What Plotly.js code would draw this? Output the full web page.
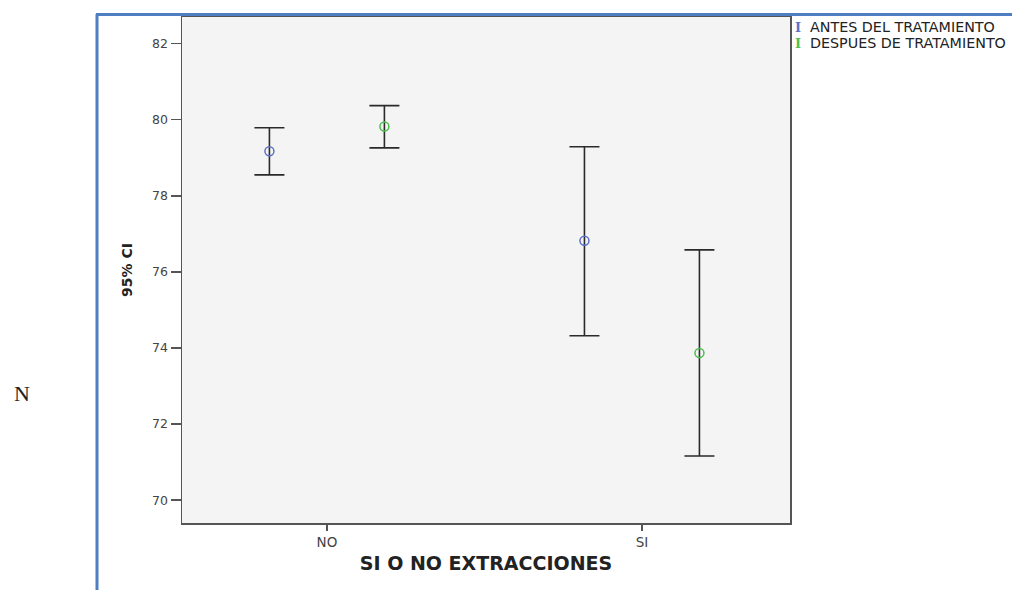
<!DOCTYPE html>
<html>
<head>
<meta charset="utf-8">
<script src="https://cdn.plot.ly/plotly-3.0.1.min.js"></script>
<style>html,body{margin:0;padding:0;background:#fff;}#chart{width:1012px;height:590px;}</style>
</head>
<body>
<div id="chart"></div>
<script>
const categories = ['NO', 'SI'];
const seriesNames = ['ANTES DEL TRATAMIENTO', 'DESPUES DE TRATAMIENTO'];
const antesMean = [79.17, 76.82];
const antesUpper = [79.79, 79.29];
const antesLower = [78.55, 74.32];
const despuesMean = [79.82, 73.87];
const despuesUpper = [80.37, 76.58];
const despuesLower = [79.26, 71.16];
const yTicks = [70, 72, 74, 76, 78, 80, 82];

const colors = ['#5b70c8', '#4cbf4c'];
const FONT = 'DejaVu Sans, Liberation Sans, Arial, sans-serif';

function mk(name, mean, up, lo, color) {
  return {
    type: 'scatter', mode: 'markers', name: name,
    x: categories, y: mean,
    marker: {symbol: 'circle-open', size: 9, color: color, line: {width: 1.5, color: color}},
    error_y: {type: 'data', symmetric: false,
      array: up.map((u, i) => u - mean[i]),
      arrayminus: lo.map((l, i) => mean[i] - l),
      color: '#2a2a2a', thickness: 1.6, width: 15},
    showlegend: false, hoverinfo: 'skip'
  };
}

const data = [
  mk(seriesNames[0], antesMean, antesUpper, antesLower, colors[0]),
  mk(seriesNames[1], despuesMean, despuesUpper, despuesLower, colors[1])
];

const W = 608, H = 506;
const px = v => (v - 182) / W;
const py = v => (523 - v) / H;

const layout = {
  width: 1012, height: 590,
  margin: {l: 182, r: 222, t: 17, b: 67},
  paper_bgcolor: '#ffffff', plot_bgcolor: '#f4f4f4',
  scattermode: 'group', scattergap: 0.27,
  font: {family: FONT, size: 12, color: '#333'},
  xaxis: {
    type: 'category', range: [-0.46, 1.47],
    showline: true, linecolor: '#555', linewidth: 1.5, mirror: true,
    ticks: 'outside', ticklen: 6, tickcolor: '#555', tickwidth: 1.5,
    showgrid: false, zeroline: false,
    tickfont: {family: FONT, size: 13.5, color: '#444'},
    title: {text: 'SI O NO EXTRACCIONES', font: {family: FONT, size: 19, color: '#222', weight: 'bold'}, standoff: 8}
  },
  yaxis: {
    range: [69.4, 82.7], tickvals: yTicks, ticktext: yTicks.map(String),
    showline: true, linecolor: '#555', linewidth: 1.5, mirror: true,
    ticks: 'outside', ticklen: 10, tickcolor: '#555', tickwidth: 1.5,
    showgrid: false, zeroline: false,
    tickfont: {family: FONT, size: 12.5, color: '#444'},
    title: {text: '95% CI', font: {family: FONT, size: 14, color: '#222', weight: 'bold'}, standoff: 16}
  },
  shapes: [
    {type: 'line', xref: 'paper', yref: 'paper', x0: px(97), x1: px(97), y0: py(14), y1: py(600), line: {color: '#4f7fc0', width: 3}},
    {type: 'line', xref: 'paper', yref: 'paper', x0: px(96), x1: px(1020), y0: py(14.5), y1: py(14.5), line: {color: '#4f7fc0', width: 3}}
  ],
  annotations: [
    {xref: 'paper', yref: 'paper', x: px(798), y: py(27), xanchor: 'center', yanchor: 'middle', showarrow: false,
     text: 'I', font: {family: 'DejaVu Serif, serif', size: 13, color: colors[0], weight: 'bold'}},
    {xref: 'paper', yref: 'paper', x: px(808), y: py(27), xanchor: 'left', yanchor: 'middle', showarrow: false,
     text: seriesNames[0], font: {family: FONT, size: 14.3, color: '#222'}},
    {xref: 'paper', yref: 'paper', x: px(798), y: py(43), xanchor: 'center', yanchor: 'middle', showarrow: false,
     text: 'I', font: {family: 'DejaVu Serif, serif', size: 13, color: colors[1], weight: 'bold'}},
    {xref: 'paper', yref: 'paper', x: px(808), y: py(43), xanchor: 'left', yanchor: 'middle', showarrow: false,
     text: seriesNames[1], font: {family: FONT, size: 14.3, color: '#222'}},
    {xref: 'paper', yref: 'paper', x: px(22), y: py(394), xanchor: 'center', yanchor: 'middle', showarrow: false,
     text: 'N', font: {family: 'Liberation Serif, Times New Roman, serif', size: 22, color: '#222'}}
  ]
};

Plotly.newPlot('chart', data, layout, {displayModeBar: false, staticPlot: true});
</script>
</body>
</html>
